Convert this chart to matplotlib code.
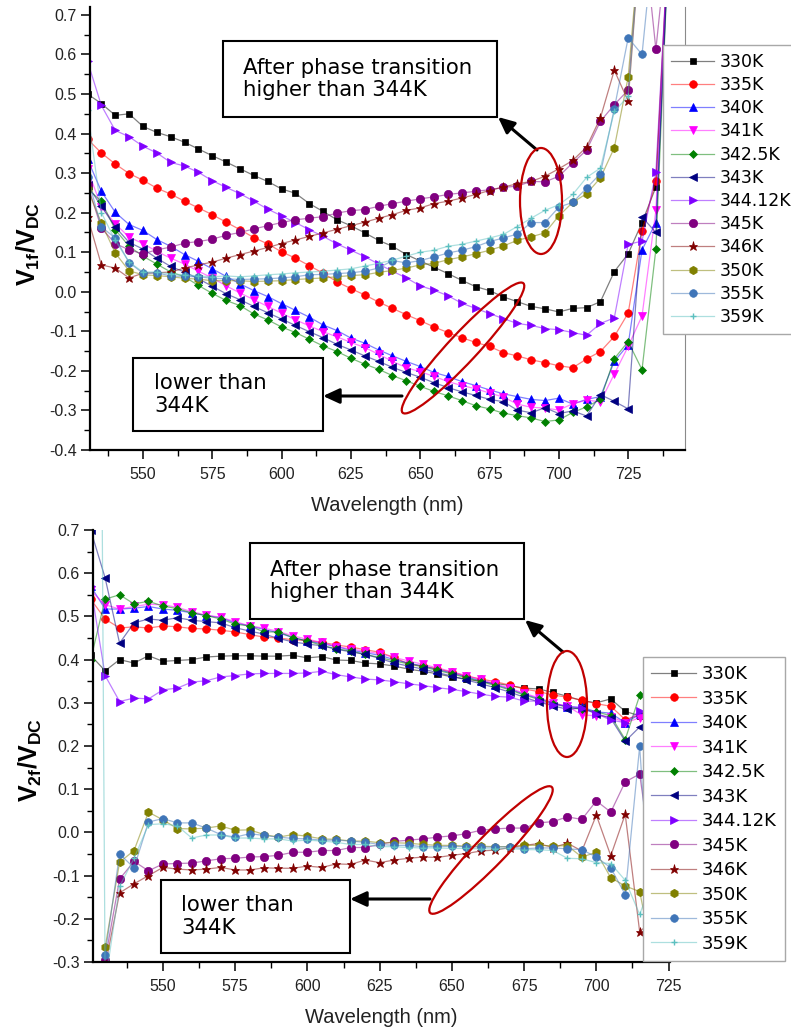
import numpy as np
import matplotlib
matplotlib.use('Agg')
import matplotlib.pyplot as plt
from matplotlib.patches import Rectangle, Ellipse, FancyArrowPatch
from matplotlib.ticker import MultipleLocator, FormatStrFormatter
from matplotlib.colors import to_rgb

plt.rcParams['axes.unicode_minus'] = False
plt.rcParams['mathtext.fontset'] = 'custom'
plt.rcParams['mathtext.rm'] = 'Liberation Sans'
plt.rcParams['mathtext.bf'] = 'Liberation Sans:bold'

nan = np.nan

labels = ['330K', '335K', '340K', '341K', '342.5K', '343K', '344.12K',
          '345K', '346K', '350K', '355K', '359K']
colors = ['#000000', '#ff0000', '#0000ff', '#ff00ff', '#008000', '#000080',
          '#8000ff', '#800080', '#800000', '#808000', '#3f75b8', '#5cc0c0']
markers = ['s', 'o', '^', 'v', 'D', '<', '>', 'o', '*', 'h', 'o', '+']
msizes = [5, 5.5, 5.5, 5.5, 4.5, 5.5, 5.5, 6, 6.5, 6, 5.5, 5]

# ---- V1f/VDC (top) ----
wl_top = list(range(530, 745, 5))
t330 = [0.500, 0.476, 0.446, 0.450, 0.418, 0.403, 0.392, 0.378, 0.361, 0.344,
        0.328, 0.311, 0.294, 0.279, 0.260, 0.249, 0.223, 0.203, 0.182, 0.167,
        0.149, 0.130, 0.115, 0.094, 0.078, 0.062, 0.046, 0.029, 0.013, 0.003,
        -0.013, -0.025, -0.037, -0.043, -0.051, -0.042, -0.040, -0.025, 0.051, 0.096,
        0.175, 0.265, 0.950]
t335 = [0.386, 0.351, 0.323, 0.299, 0.282, 0.262, 0.247, 0.229, 0.212, 0.195,
        0.176, 0.157, 0.137, 0.121, 0.101, 0.085, 0.066, 0.047, 0.025, 0.008,
        -0.008, -0.026, -0.042, -0.058, -0.073, -0.089, -0.103, -0.116, -0.128, -0.138,
        -0.154, -0.162, -0.172, -0.179, -0.187, -0.192, -0.170, -0.151, -0.113, -0.054,
        0.153, 0.281, 0.950]
t340 = [0.335, 0.254, 0.201, 0.170, 0.155, 0.132, 0.115, 0.094, 0.077, 0.058,
        0.039, 0.020, 0.003, -0.012, -0.030, -0.047, -0.064, -0.084, -0.098, -0.117,
        -0.130, -0.147, -0.162, -0.176, -0.189, -0.204, -0.214, -0.227, -0.237, -0.248,
        -0.258, -0.265, -0.272, -0.275, -0.269, -0.284, -0.272, -0.265, -0.176, -0.134,
        0.106, 0.175, 0.950]
t341 = [0.310, 0.215, 0.172, 0.138, 0.122, 0.102, 0.085, 0.070, 0.052, 0.035,
        0.015, -0.003, -0.020, -0.037, -0.054, -0.071, -0.086, -0.101, -0.114, -0.128,
        -0.141, -0.158, -0.176, -0.192, -0.202, -0.214, -0.227, -0.237, -0.245, -0.256,
        -0.266, -0.284, -0.292, -0.294, -0.299, -0.283, -0.274, -0.278, -0.208, -0.138,
        -0.061, 0.206, 0.950]
t342 = [0.260, 0.229, 0.157, 0.115, 0.090, 0.070, 0.050, 0.038, 0.016, -0.004,
        -0.022, -0.035, -0.056, -0.071, -0.089, -0.103, -0.120, -0.137, -0.151, -0.168,
        -0.183, -0.196, -0.212, -0.225, -0.239, -0.252, -0.263, -0.275, -0.288, -0.296,
        -0.307, -0.313, -0.319, -0.328, -0.324, -0.305, -0.291, -0.272, -0.169, -0.126,
        -0.197, 0.108, 0.950]
t343 = [0.270, 0.216, 0.164, 0.125, 0.108, 0.085, 0.064, 0.050, 0.033, 0.014,
        -0.005, -0.020, -0.037, -0.053, -0.069, -0.085, -0.101, -0.116, -0.133, -0.147,
        -0.162, -0.176, -0.191, -0.204, -0.216, -0.230, -0.242, -0.253, -0.262, -0.272,
        -0.278, -0.299, -0.306, -0.293, -0.308, -0.301, -0.314, -0.260, -0.277, -0.296,
        0.189, 0.150, 0.950]
t344 = [0.583, 0.471, 0.408, 0.392, 0.368, 0.351, 0.327, 0.318, 0.302, 0.281,
        0.264, 0.248, 0.229, 0.209, 0.192, 0.175, 0.157, 0.140, 0.121, 0.105,
        0.089, 0.070, 0.052, 0.035, 0.015, 0.004, -0.010, -0.029, -0.042, -0.055,
        -0.068, -0.080, -0.085, -0.093, -0.096, -0.103, -0.110, -0.080, -0.066, 0.120,
        0.128, 0.302, 0.950]
t345 = [0.270, 0.161, 0.122, 0.106, 0.096, 0.106, 0.113, 0.123, 0.127, 0.133,
        0.143, 0.150, 0.159, 0.167, 0.175, 0.182, 0.186, 0.190, 0.199, 0.205,
        0.208, 0.216, 0.223, 0.229, 0.235, 0.240, 0.246, 0.250, 0.254, 0.258,
        0.264, 0.267, 0.279, 0.278, 0.292, 0.326, 0.358, 0.431, 0.473, 0.510,
        0.950, 0.613, 0.950]
t346 = [0.190, 0.068, 0.060, 0.035, 0.047, 0.048, 0.050, 0.060, 0.068, 0.075,
        0.085, 0.094, 0.103, 0.112, 0.122, 0.131, 0.140, 0.149, 0.158, 0.167,
        0.176, 0.186, 0.195, 0.206, 0.212, 0.223, 0.229, 0.237, 0.246, 0.256,
        0.265, 0.273, 0.279, 0.292, 0.311, 0.332, 0.366, 0.440, 0.560, 0.482,
        0.950, nan, nan]
t350 = [0.260, 0.174, 0.098, 0.053, 0.043, 0.041, 0.038, 0.034, 0.032, 0.028,
        0.028, 0.028, 0.026, 0.027, 0.028, 0.031, 0.033, 0.035, 0.038, 0.041,
        0.043, 0.049, 0.054, 0.060, 0.068, 0.072, 0.081, 0.088, 0.096, 0.105,
        0.116, 0.130, 0.139, 0.149, 0.192, 0.226, 0.248, 0.288, 0.364, 0.543,
        0.950, nan, nan]
t355 = [0.290, 0.164, 0.136, 0.074, 0.047, 0.048, 0.040, 0.039, 0.038, 0.034,
        0.033, 0.031, 0.032, 0.033, 0.035, 0.038, 0.043, 0.044, 0.046, 0.048,
        0.052, 0.060, 0.079, 0.073, 0.079, 0.088, 0.098, 0.105, 0.114, 0.127,
        0.136, 0.146, 0.175, 0.175, 0.214, 0.226, 0.262, 0.299, 0.463, 0.642,
        0.600, 0.950, nan]
t359 = [0.460, 0.200, 0.130, 0.075, 0.050, 0.050, 0.045, 0.043, 0.040, 0.038,
        0.040, 0.038, 0.040, 0.043, 0.045, 0.048, 0.050, 0.052, 0.055, 0.058,
        0.065, 0.072, 0.080, 0.090, 0.100, 0.105, 0.115, 0.120, 0.128, 0.136,
        0.145, 0.165, 0.186, 0.206, 0.220, 0.246, 0.289, 0.313, 0.456, 0.494,
        0.950, nan, nan]
top_series = [t330, t335, t340, t341, t342, t343, t344, t345, t346, t350, t355, t359]

# ---- V2f/VDC (bottom) ----
wl_bot = list(range(525, 730, 5))
b330 = [0.410, 0.374, 0.400, 0.392, 0.409, 0.396, 0.398, 0.400, 0.406, 0.408,
        0.409, 0.409, 0.408, 0.408, 0.410, 0.404, 0.407, 0.399, 0.398, 0.392,
        0.390, 0.385, 0.378, 0.373, 0.367, 0.360, 0.355, 0.349, 0.345, 0.340,
        0.334, 0.332, 0.324, 0.315, 0.305, 0.300, 0.309, 0.280, 0.270, 0.250,
        0.230]
b335 = [0.540, 0.494, 0.473, 0.476, 0.473, 0.478, 0.476, 0.472, 0.471, 0.468,
        0.464, 0.458, 0.452, 0.450, 0.446, 0.444, 0.440, 0.434, 0.429, 0.423,
        0.417, 0.405, 0.390, 0.385, 0.379, 0.371, 0.362, 0.355, 0.349, 0.341,
        0.332, 0.326, 0.318, 0.313, 0.306, 0.298, 0.292, 0.261, 0.272, 0.260,
        0.240]
b340 = [0.570, 0.517, 0.517, 0.519, 0.523, 0.517, 0.514, 0.508, 0.502, 0.497,
        0.485, 0.478, 0.470, 0.462, 0.451, 0.443, 0.437, 0.430, 0.422, 0.416,
        0.410, 0.400, 0.392, 0.385, 0.377, 0.369, 0.360, 0.351, 0.342, 0.332,
        0.320, 0.310, 0.300, 0.290, 0.290, 0.279, 0.276, 0.254, 0.273, 0.270,
        0.250]
b341 = [0.560, 0.527, 0.517, 0.523, 0.528, 0.527, 0.521, 0.511, 0.503, 0.498,
        0.488, 0.478, 0.473, 0.465, 0.455, 0.447, 0.440, 0.430, 0.425, 0.419,
        0.414, 0.405, 0.397, 0.389, 0.381, 0.372, 0.363, 0.354, 0.344, 0.334,
        0.322, 0.312, 0.300, 0.292, 0.272, 0.270, 0.268, 0.254, 0.265, 0.260,
        0.250]
b342 = [0.400, 0.540, 0.550, 0.529, 0.535, 0.524, 0.518, 0.508, 0.502, 0.494,
        0.482, 0.478, 0.464, 0.464, 0.451, 0.443, 0.433, 0.425, 0.420, 0.412,
        0.405, 0.397, 0.390, 0.383, 0.375, 0.367, 0.358, 0.349, 0.340, 0.330,
        0.318, 0.308, 0.298, 0.290, 0.285, 0.279, 0.270, 0.215, 0.317, 0.300,
        0.280]
b343 = [0.700, 0.589, 0.438, 0.485, 0.494, 0.491, 0.497, 0.491, 0.488, 0.485,
        0.474, 0.466, 0.459, 0.449, 0.441, 0.436, 0.432, 0.424, 0.418, 0.412,
        0.403, 0.392, 0.385, 0.378, 0.370, 0.362, 0.353, 0.344, 0.335, 0.325,
        0.313, 0.302, 0.293, 0.285, 0.288, 0.275, 0.264, 0.211, 0.244, 0.240,
        0.230]
b344 = [0.570, 0.363, 0.303, 0.311, 0.309, 0.330, 0.334, 0.348, 0.351, 0.360,
        0.363, 0.367, 0.368, 0.368, 0.368, 0.369, 0.373, 0.365, 0.360, 0.355,
        0.353, 0.349, 0.344, 0.340, 0.335, 0.331, 0.326, 0.320, 0.315, 0.313,
        0.304, 0.304, 0.296, 0.293, 0.287, 0.275, 0.260, 0.254, 0.281, 0.270,
        0.260]
b345 = [nan, -0.295, -0.108, -0.067, -0.089, -0.073, -0.072, -0.071, -0.066, -0.061,
        -0.060, -0.057, -0.056, -0.053, -0.046, -0.046, -0.042, -0.042, -0.035, -0.035,
        -0.028, -0.021, -0.018, -0.015, -0.011, -0.008, -0.003, 0.005, 0.008, 0.010,
        0.010, 0.022, 0.025, 0.036, 0.030, 0.073, 0.047, 0.117, 0.135, -0.100,
        -0.310]
b346 = [nan, -0.310, -0.140, -0.119, -0.100, -0.081, -0.085, -0.087, -0.085, -0.081,
        -0.087, -0.087, -0.082, -0.083, -0.083, -0.078, -0.081, -0.073, -0.074, -0.064,
        -0.070, -0.064, -0.060, -0.057, -0.058, -0.053, -0.049, -0.043, -0.041, -0.035,
        -0.030, -0.026, -0.035, -0.025, -0.043, 0.040, -0.054, 0.042, -0.230, -0.200,
        -0.300]
b350 = [nan, -0.266, -0.069, -0.042, 0.047, 0.029, 0.009, 0.008, 0.010, 0.015,
        0.005, 0.006, -0.005, -0.011, -0.005, -0.009, -0.015, -0.016, -0.020, -0.020,
        -0.024, -0.024, -0.025, -0.028, -0.030, -0.030, -0.032, -0.032, -0.033, -0.033,
        -0.030, -0.030, -0.031, -0.031, -0.057, -0.046, -0.105, -0.124, -0.137, -0.300,
        -0.330]
b355 = [nan, -0.283, -0.050, -0.082, 0.024, 0.032, 0.022, 0.022, 0.010, -0.005,
        -0.011, -0.003, -0.007, -0.011, -0.014, -0.015, -0.018, -0.018, -0.020, -0.023,
        -0.028, -0.030, -0.030, -0.033, -0.033, -0.032, -0.033, -0.034, -0.034, -0.033,
        -0.038, -0.036, -0.036, -0.038, -0.040, -0.057, -0.082, -0.144, 0.199, -0.300,
        -0.330]
b359 = [5.000, -0.350, -0.125, -0.060, 0.018, 0.020, 0.015, -0.013, -0.006, -0.006,
        -0.013, -0.013, -0.015, -0.015, -0.020, -0.018, -0.020, -0.023, -0.028, -0.028,
        -0.033, -0.033, -0.035, -0.036, -0.036, -0.037, -0.037, -0.038, -0.038, -0.037,
        -0.040, -0.040, -0.042, -0.060, -0.061, -0.070, -0.072, -0.111, -0.190, -0.100,
        -0.200]
bot_series = [b330, b335, b340, b341, b342, b343, b344, b345, b346, b350, b355, b359]

W, H = 791, 1031
fig = plt.figure(figsize=(W / 100, H / 100), dpi=100)
ax1 = fig.add_axes([90 / W, (H - 450) / H, 595 / W, 443 / H])
ax2 = fig.add_axes([93 / W, (H - 962) / H, 577 / W, 432 / H])


def draw(ax, wl, series):
    for s, lab, c, m, ms in zip(series, labels, colors, markers, msizes):
        r, g, b = to_rgb(c)
        ax.plot(wl, s, color=(r, g, b, 0.5), lw=0.9, marker=m, ms=ms,
                mfc=c, mec=c, mew=1.0 if m == '+' else 0.5, label=lab)


def style(ax, xlim, ylim):
    ax.set_xlim(*xlim)
    ax.set_ylim(*ylim)
    ax.xaxis.set_major_locator(MultipleLocator(25))
    ax.xaxis.set_minor_locator(MultipleLocator(12.5))
    ax.yaxis.set_major_locator(MultipleLocator(0.1))
    ax.yaxis.set_minor_locator(MultipleLocator(0.05))
    ax.yaxis.set_major_formatter(FormatStrFormatter('%.1f'))
    ax.tick_params(which='major', direction='out', length=6.5, width=1.1,
                   labelsize=11.5)
    ax.tick_params(axis='x', which='major', pad=6)
    ax.tick_params(axis='y', which='major', pad=3)
    ax.tick_params(which='minor', direction='out', length=4, width=1.0)
    for lab in ax.get_xticklabels() + ax.get_yticklabels():
        lab.set_family('Liberation Sans')
        lab.set_color('#222222')
    for sp in ['left', 'bottom']:
        ax.spines[sp].set_linewidth(1.6)
    ax.spines['top'].set_visible(False)
    ax.set_xlabel('Wavelength (nm)', family='Liberation Sans', fontsize=14.5,
                  labelpad=10, color='#222222')


draw(ax1, wl_top, top_series)
style(ax1, (530.9, 745.5), (-0.4, 0.72))
ax1.spines['right'].set_color('#8a8a8a')
ax1.spines['right'].set_linewidth(0.8)

draw(ax2, wl_bot, bot_series)
style(ax2, (525.8, 725.5), (-0.3, 0.7))
ax2.spines['right'].set_visible(False)

leg1 = ax1.legend(loc='upper left', bbox_to_anchor=(663 / W, 1 - 45 / H),
                  bbox_transform=fig.transFigure, prop={'family': 'DejaVu Sans', 'size': 12.5},
                  fancybox=False, edgecolor='#a8a8a8', framealpha=1, labelspacing=0.3,
                  handlelength=2.5, handletextpad=0.3, borderpad=0.45, borderaxespad=0)
leg1.get_frame().set_linewidth(1.0)
leg2 = ax2.legend(loc='upper left', bbox_to_anchor=(643 / W, 1 - 657 / H),
                  bbox_transform=fig.transFigure, prop={'family': 'DejaVu Sans', 'size': 13},
                  fancybox=False, edgecolor='#a8a8a8', framealpha=1, labelspacing=0.36,
                  handlelength=2.5, handletextpad=0.3, borderpad=0.45, borderaxespad=0)
leg2.get_frame().set_linewidth(1.0)


# annotation helpers, positions in pixels of the 791x1031 picture
def px(x, y):
    return (x / 100.0, (H - y) / 100.0)


tr = fig.dpi_scale_trans


def box(x0, y0, x1, y1, tx, text):
    fig.add_artist(Rectangle(px(x0, y1), (x1 - x0) / 100, (y1 - y0) / 100, transform=tr,
                             facecolor='white', edgecolor='black', lw=1.5, zorder=4))
    fig.text(*px(tx, (y0 + y1) / 2), text, transform=tr, ha='left', va='center',
             fontsize=15.3, family='DejaVu Sans', linespacing=1.15, zorder=5)


def arrow(x0, y0, x1, y1):
    fig.add_artist(FancyArrowPatch(px(x0, y0), px(x1, y1), transform=tr,
                                   arrowstyle='-|>,head_length=0.65,head_width=0.3',
                                   mutation_scale=15, lw=2.2, color='black',
                                   shrinkA=0, shrinkB=0, zorder=5))


def ring(cx, cy, w, h, ang):
    fig.add_artist(Ellipse(px(cx, cy), w / 100, h / 100, angle=ang, transform=tr,
                           fill=False, edgecolor='#c00000', lw=1.6, zorder=5))


box(223, 41, 497, 117, 243, 'After phase transition\nhigher than 344K')
box(133, 358, 323, 431, 154, 'lower than\n344K')
arrow(537, 150, 498, 117)
arrow(402, 396, 323, 396)
ring(541, 201, 42, 106, 0)
ring(463, 348, 177, 29, 47)

box(250, 543, 524, 619, 270, 'After phase transition\nhigher than 344K')
box(161, 880, 350, 953, 181, 'lower than\n344K')
arrow(563, 652, 525, 620)
arrow(430, 899, 350, 899)
ring(567, 704, 40, 106, 0)
ring(491, 850, 175, 30, 46)

fig.text(*px(28, 244), r'$\mathbf{V_{1f}/V_{DC}}$', transform=tr, rotation=90,
         ha='center', va='center', fontsize=18)
fig.text(*px(30, 760), r'$\mathbf{V_{2f}/V_{DC}}$', transform=tr, rotation=90,
         ha='center', va='center', fontsize=18)

fig.savefig('out.png', dpi=100)
